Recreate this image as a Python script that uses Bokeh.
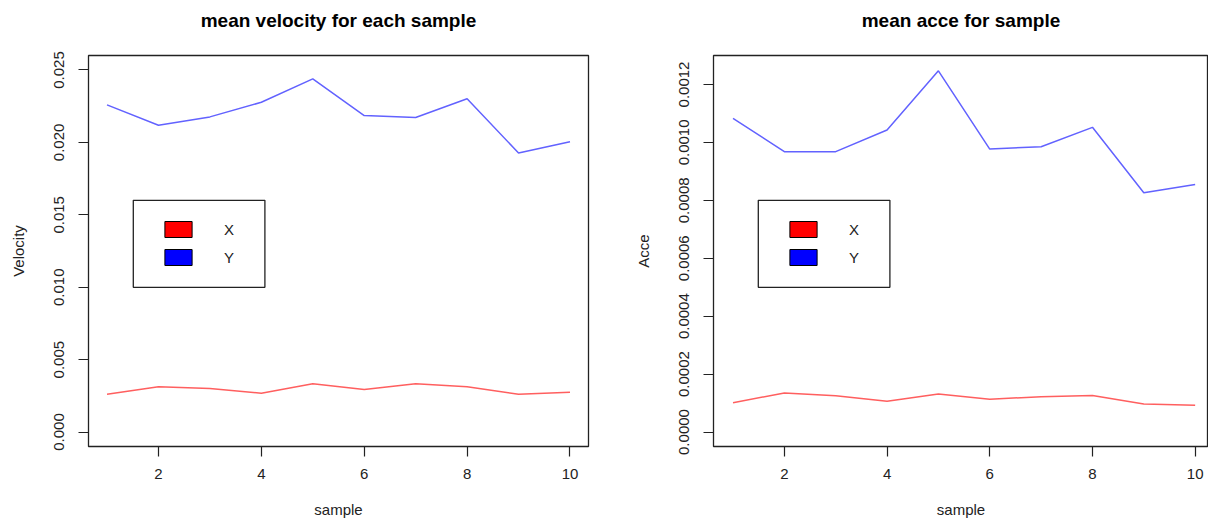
from bokeh.plotting import figure
from bokeh.layouts import row
from bokeh.models import (FixedTicker, PrintfTickFormatter, Legend, LegendItem,
                          BoxAnnotation, Range1d, Title)
from bokeh.embed import file_html
from bokeh.resources import INLINE

# ---- data ----
samples = [1, 2, 3, 4, 5, 6, 7, 8, 9, 10]
vel_x = [0.00261, 0.00313, 0.00300, 0.00268, 0.00334, 0.00293, 0.00334, 0.00313, 0.00261, 0.00275]
vel_y = [0.02259, 0.02118, 0.02176, 0.02277, 0.02439, 0.02185, 0.02172, 0.02301, 0.01927, 0.02004]
acc_x = [0.000101, 0.000135, 0.000125, 0.000106, 0.000131, 0.000113, 0.000122, 0.000126, 0.000097, 0.000092]
acc_y = [0.001083, 0.000968, 0.000968, 0.001043, 0.001247, 0.000977, 0.000985, 0.001052, 0.000826, 0.000855]

x_ticks = [2, 4, 6, 8, 10]
vel_ticks = [0.000, 0.005, 0.010, 0.015, 0.020, 0.025]
acc_ticks = [0.0000, 0.0002, 0.0004, 0.0006, 0.0008, 0.0010, 0.0012]
legend_labels = ["X", "Y"]
series_colors = ["#ff5f5f", "#6262ff"]
swatch_colors = ["#ff0000", "#0000ff"]

FONT = "Liberation Sans"
NAN = float("nan")
FIG_H = 520
TOP = 55
BOTTOM = 73


def make_plot(title, ylabel, ys, yticks, yfmt, xr, yr, width, mbl, mbr):
    p = figure(width=width, height=FIG_H, output_backend="svg", toolbar_location=None,
               title_location=None,
               x_range=Range1d(*xr), y_range=Range1d(*yr),
               min_border_left=mbl, min_border_right=mbr,
               min_border_top=TOP, min_border_bottom=BOTTOM)
    p.background_fill_color = "white"
    p.border_fill_color = "white"
    p.outline_line_color = "#222222"
    p.outline_line_width = 1.3
    p.xgrid.visible = False
    p.ygrid.visible = False

    # spacer between frame and title, then the title itself
    p.add_layout(Title(text=" ", text_font_size="1px", standoff=22), "above")
    p.add_layout(Title(text=title, align="center", text_font=FONT,
                       text_font_size="19px", text_font_style="bold",
                       text_color="black", standoff=0), "above")

    for ax in (p.xaxis[0], p.yaxis[0]):
        ax.axis_line_color = None
        ax.major_tick_out = 10
        ax.major_tick_in = 0
        ax.minor_tick_out = 0
        ax.minor_tick_in = 0
        ax.major_tick_line_color = "#222222"
        ax.major_tick_line_width = 1.2
        ax.major_label_text_font = FONT
        ax.major_label_text_font_size = "15px"
        ax.major_label_text_color = "#222222"
        ax.axis_label_text_font = FONT
        ax.axis_label_text_font_size = "15px"
        ax.axis_label_text_font_style = "normal"
        ax.axis_label_text_color = "#222222"

    p.xaxis.ticker = FixedTicker(ticks=x_ticks)
    p.xaxis.axis_label = "sample"
    p.xaxis.major_label_standoff = 12
    p.xaxis.axis_label_standoff = 19

    p.yaxis.ticker = FixedTicker(ticks=yticks)
    p.yaxis.formatter = PrintfTickFormatter(format=yfmt)
    p.yaxis.major_label_orientation = "vertical"
    p.yaxis.axis_label = ylabel
    p.yaxis.major_label_standoff = 14
    p.yaxis.axis_label_standoff = 25

    for s, c in zip(ys, series_colors):
        p.line(samples, s, line_color=c, line_width=1.5)

    # legend frame
    box = BoxAnnotation(left=44.8, right=176.4, bottom=159.2, top=246.2,
                        left_units="screen", right_units="screen",
                        bottom_units="screen", top_units="screen",
                        fill_color="white", fill_alpha=1.0,
                        line_color="#222222", line_alpha=1.0, line_width=1.3)
    p.add_layout(box)

    items = []
    for lab, c in zip(legend_labels, swatch_colors):
        r = p.rect(x=[NAN], y=[NAN], width=1, height=1, fill_color=c,
                   line_color="black", line_width=1)
        items.append(LegendItem(label=lab, renderers=[r]))
    leg = Legend(items=items, location=(73, 179), orientation="vertical",
                 glyph_width=34, glyph_height=20, label_height=20, spacing=8,
                 padding=0, margin=0, border_line_color=None,
                 background_fill_alpha=0, label_standoff=29,
                 label_text_font=FONT, label_text_font_size="15px",
                 label_text_color="#222222")
    p.add_layout(leg)
    return p


p1 = make_plot("mean velocity for each sample", "Velocity", [vel_x, vel_y],
               vel_ticks, "%.3f", (0.64, 10.36), (-0.001, 0.026), 608, 88, 20)
p2 = make_plot("mean acce for sample", "Acce", [acc_x, acc_y],
               acc_ticks, "%.4f", (0.62, 10.26), (-0.00005, 0.0013), 600, 105, 0)

layout = row(p1, p2)
open("out.html", "w").write(file_html(layout, INLINE))
